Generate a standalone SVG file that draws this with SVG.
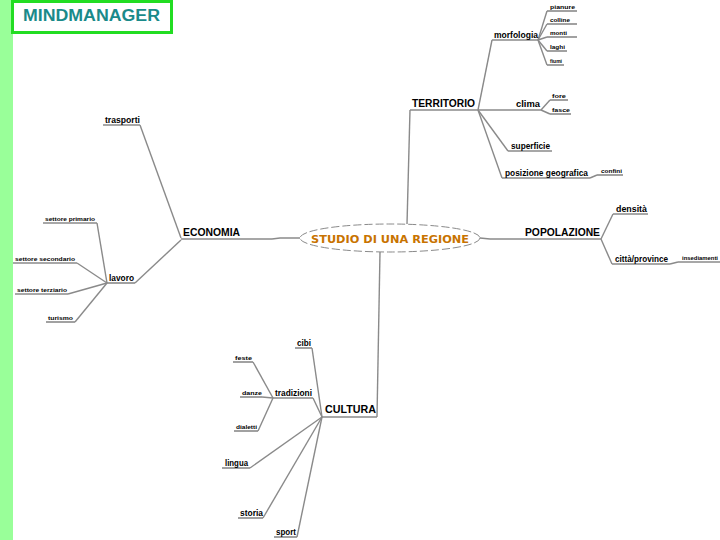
<svg xmlns="http://www.w3.org/2000/svg" width="720" height="540" viewBox="0 0 720 540">
<style>
.c{fill:none;stroke:#8a8a8a;stroke-width:1.4}
.u{fill:none;stroke:#8a8a8a;stroke-width:1.6}
.t{font-family:"Liberation Sans",Arial,sans-serif;fill:#000}
.main{font-size:10px;font-weight:bold}
.sub{font-size:8.5px;font-weight:bold}
.leaf{font-size:6px;font-weight:bold}
</style>
<rect x="0" y="0" width="720" height="540" fill="#fff"/>
<rect x="0" y="0" width="13" height="540" fill="#99ff99"/>
<g id="title">
<rect x="12.5" y="1.5" width="159" height="31" fill="#fff" stroke="#22dd22" stroke-width="3"/>
<text x="23" y="21" font-family="Liberation Sans,Arial,sans-serif" font-size="16" font-weight="bold" fill="#1a8a8a" textLength="137" lengthAdjust="spacingAndGlyphs">MINDMANAGER</text>
</g>
<g id="connectors">
<polyline class="c" points="300,238 280,238 272,239"/>
<polyline class="c" points="407,224 410,110"/>
<polyline class="c" points="480,238 490,239"/>
<polyline class="c" points="380,252 377,417"/>
<polyline class="c" points="140,125 181,238"/>
<polyline class="c" points="181,240 135,283"/>
<polyline class="c" points="97,223 107,283"/>
<polyline class="c" points="77,263 107,283"/>
<polyline class="c" points="68,294 107,283"/>
<polyline class="c" points="75,322 107,283"/>
<polyline class="c" points="478,110 492,40"/>
<polyline class="c" points="538,40 547,11"/>
<polyline class="c" points="538,40 547,24"/>
<polyline class="c" points="538,40 547,37"/>
<polyline class="c" points="538,40 547,51"/>
<polyline class="c" points="538,40 547,65"/>
<polyline class="c" points="541,110 550,100"/>
<polyline class="c" points="541,110 550,114"/>
<polyline class="c" points="478,110 508,151"/>
<polyline class="c" points="478,110 502,178"/>
<polyline class="c" points="590,178 597,175"/>
<polyline class="c" points="601,239 613,214"/>
<polyline class="c" points="601,239 612,264"/>
<polyline class="c" points="670,264 678,262"/>
<polyline class="c" points="322,417 312,348"/>
<polyline class="c" points="322,417 313,398"/>
<polyline class="c" points="273,398 253,362"/>
<polyline class="c" points="273,398 262,397"/>
<polyline class="c" points="273,398 258,431"/>
<polyline class="c" points="322,417 250,468"/>
<polyline class="c" points="322,417 263,518"/>
<polyline class="c" points="322,417 297,537"/>
</g>
<g id="center">
<ellipse cx="390" cy="238" rx="90" ry="14" fill="#fff" stroke="#8a8a8a" stroke-width="1" stroke-dasharray="8,3"/>
<text x="390" y="243" text-anchor="middle" font-family="'DejaVu Sans',sans-serif" font-size="11" font-weight="bold" fill="#c87300" textLength="158" lengthAdjust="spacingAndGlyphs">STUDIO DI UNA REGIONE</text>
</g>
<g id="economia"><line class="u" x1="181" y1="239" x2="272" y2="239"/><text class="t main" x="183" y="236" textLength="57" lengthAdjust="spacingAndGlyphs">ECONOMIA</text></g>
<g id="trasporti"><line class="u" x1="103" y1="125" x2="140" y2="125"/><text class="t sub" x="105" y="123" textLength="35" lengthAdjust="spacingAndGlyphs">trasporti</text></g>
<g id="lavoro"><line class="u" x1="107" y1="283" x2="135" y2="283"/><text class="t sub" x="109" y="281" textLength="25" lengthAdjust="spacingAndGlyphs">lavoro</text></g>
<g id="primario"><line class="u" x1="43" y1="223" x2="97" y2="223"/><text class="t leaf" x="45" y="221" textLength="50" lengthAdjust="spacingAndGlyphs">settore primario</text></g>
<g id="secondario"><line class="u" x1="13" y1="263" x2="77" y2="263"/><text class="t leaf" x="15" y="261" textLength="60" lengthAdjust="spacingAndGlyphs">settore secondario</text></g>
<g id="terziario"><line class="u" x1="15" y1="294" x2="68" y2="294"/><text class="t leaf" x="17" y="292" textLength="50" lengthAdjust="spacingAndGlyphs">settore terziario</text></g>
<g id="turismo"><line class="u" x1="46" y1="322" x2="75" y2="322"/><text class="t leaf" x="48" y="320" textLength="25" lengthAdjust="spacingAndGlyphs">turismo</text></g>
<g id="territorio"><line class="u" x1="410" y1="110" x2="541" y2="110"/><text class="t main" x="412" y="107" textLength="63" lengthAdjust="spacingAndGlyphs">TERRITORIO</text></g>
<g id="morfologia"><line class="u" x1="492" y1="40" x2="538" y2="40"/><text class="t sub" x="494" y="38" textLength="44" lengthAdjust="spacingAndGlyphs">morfologia</text></g>
<g id="pianure"><line class="u" x1="547" y1="11" x2="577" y2="11"/><text class="t leaf" x="550" y="9" textLength="25" lengthAdjust="spacingAndGlyphs">pianure</text></g>
<g id="colline"><line class="u" x1="547" y1="24" x2="577" y2="24"/><text class="t leaf" x="550" y="22" textLength="20" lengthAdjust="spacingAndGlyphs">colline</text></g>
<g id="monti"><line class="u" x1="547" y1="37" x2="577" y2="37"/><text class="t leaf" x="550" y="35" textLength="17" lengthAdjust="spacingAndGlyphs">monti</text></g>
<g id="laghi"><line class="u" x1="547" y1="51" x2="567" y2="51"/><text class="t leaf" x="550" y="49" textLength="15" lengthAdjust="spacingAndGlyphs">laghi</text></g>
<g id="fiumi"><line class="u" x1="547" y1="65" x2="564" y2="65"/><text class="t leaf" x="550" y="63" textLength="12" lengthAdjust="spacingAndGlyphs">fiumi</text></g>
<g id="clima"><text class="t sub" x="516" y="107" textLength="24" lengthAdjust="spacingAndGlyphs">clima</text></g>
<g id="fore"><line class="u" x1="550" y1="100" x2="568" y2="100"/><text class="t leaf" x="552" y="98" textLength="14" lengthAdjust="spacingAndGlyphs">fore</text></g>
<g id="fasce"><line class="u" x1="550" y1="114" x2="571" y2="114"/><text class="t leaf" x="552" y="112" textLength="18" lengthAdjust="spacingAndGlyphs">fasce</text></g>
<g id="superficie"><line class="u" x1="508" y1="151" x2="552" y2="151"/><text class="t sub" x="511" y="149" textLength="39" lengthAdjust="spacingAndGlyphs">superficie</text></g>
<g id="posizione"><line class="u" x1="502" y1="178" x2="590" y2="178"/><text class="t sub" x="505" y="176" textLength="83" lengthAdjust="spacingAndGlyphs">posizione geografica</text></g>
<g id="confini"><line class="u" x1="597" y1="175" x2="623" y2="175"/><text class="t leaf" x="601" y="173" textLength="21" lengthAdjust="spacingAndGlyphs">confini</text></g>
<g id="popolazione"><line class="u" x1="490" y1="239" x2="601" y2="239"/><text class="t main" x="525" y="236" textLength="75" lengthAdjust="spacingAndGlyphs">POPOLAZIONE</text></g>
<g id="densita"><line class="u" x1="613" y1="214" x2="648" y2="214"/><text class="t sub" x="616" y="212" textLength="31" lengthAdjust="spacingAndGlyphs">densità</text></g>
<g id="citta"><line class="u" x1="612" y1="264" x2="670" y2="264"/><text class="t sub" x="615" y="262" textLength="53" lengthAdjust="spacingAndGlyphs">città/province</text></g>
<g id="insediamenti"><line class="u" x1="678" y1="262" x2="720" y2="262"/><text class="t leaf" x="682" y="260" textLength="36" lengthAdjust="spacingAndGlyphs">insediamenti</text></g>
<g id="cultura"><line class="u" x1="322" y1="417" x2="377" y2="417"/><text class="t main" x="325" y="413" textLength="51" lengthAdjust="spacingAndGlyphs">CULTURA</text></g>
<g id="cibi"><line class="u" x1="295" y1="348" x2="312" y2="348"/><text class="t sub" x="297" y="346" textLength="14" lengthAdjust="spacingAndGlyphs">cibi</text></g>
<g id="tradizioni"><line class="u" x1="273" y1="398" x2="313" y2="398"/><text class="t sub" x="275" y="396" textLength="37" lengthAdjust="spacingAndGlyphs">tradizioni</text></g>
<g id="feste"><line class="u" x1="233" y1="362" x2="253" y2="362"/><text class="t leaf" x="235" y="360" textLength="17" lengthAdjust="spacingAndGlyphs">feste</text></g>
<g id="danze"><line class="u" x1="240" y1="397" x2="262" y2="397"/><text class="t leaf" x="242" y="395" textLength="20" lengthAdjust="spacingAndGlyphs">danze</text></g>
<g id="dialetti"><line class="u" x1="234" y1="431" x2="258" y2="431"/><text class="t leaf" x="236" y="429" textLength="21" lengthAdjust="spacingAndGlyphs">dialetti</text></g>
<g id="lingua"><line class="u" x1="222" y1="468" x2="250" y2="468"/><text class="t sub" x="225" y="466" textLength="23" lengthAdjust="spacingAndGlyphs">lingua</text></g>
<g id="storia"><line class="u" x1="238" y1="518" x2="263" y2="518"/><text class="t sub" x="240" y="516" textLength="23" lengthAdjust="spacingAndGlyphs">storia</text></g>
<g id="sport"><line class="u" x1="274" y1="537" x2="297" y2="537"/><text class="t sub" x="276" y="535" textLength="20" lengthAdjust="spacingAndGlyphs">sport</text></g>
</svg>
